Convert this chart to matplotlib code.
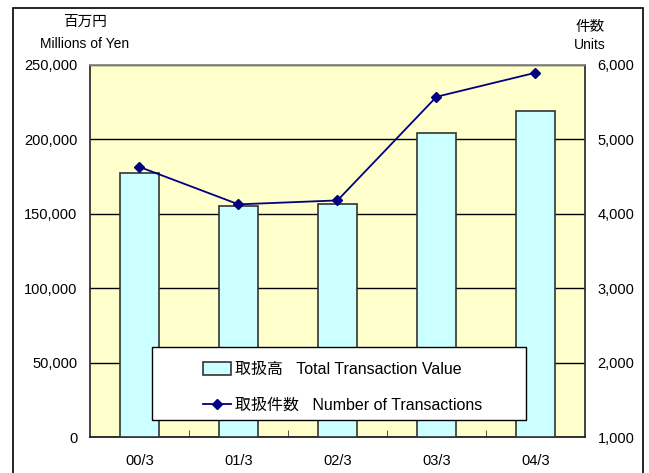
import numpy as np
import matplotlib.pyplot as plt
from matplotlib.patches import Rectangle
from matplotlib.ticker import FuncFormatter

plt.rcParams['font.family'] = ['Liberation Sans', 'Noto Sans CJK JP']

# data
periods = ['00/3', '01/3', '02/3', '03/3', '04/3']
value_mil_yen = [177200, 155000, 156300, 204400, 219000]
num_transactions = [4630, 4127, 4180, 5573, 5896]

W, H = 649, 473
fig = plt.figure(figsize=(6.49, 4.73), dpi=100)
ax = fig.add_axes([90/W, 36/H, 495/W, 372/H])
ax.set_facecolor('#FFFFCC')

x = np.arange(len(periods))
bars = ax.bar(x, value_mil_yen, width=0.4, color='#CCFFFF', edgecolor='#333333',
              linewidth=1.2, zorder=3)
ax.set_xlim(-0.5, len(periods) - 0.5)
ax.set_ylim(0, 250000)
ax.set_yticks(np.arange(0, 250001, 50000))
ax.yaxis.set_major_formatter(FuncFormatter(lambda v, p: f'{int(v):,}'))
ax.grid(axis='y', color='black', linewidth=1, zorder=1)
ax.set_axisbelow(True)
ax.set_xticks(x)
ax.set_xticklabels(periods)
ax.set_xticks(np.arange(0.5, len(periods) - 0.5, 1), minor=True)
ax.tick_params(axis='x', which='major', length=0, pad=12, labelsize=10.5)
ax.tick_params(axis='x', which='minor', direction='in', length=5, color='#333333')
ax.tick_params(axis='y', length=0, pad=9, labelsize=10.5)
ax.spines['top'].set_color('#888888')
ax.spines['right'].set_color('#333333')
ax.spines['left'].set_color('#333333')
ax.spines['bottom'].set_color('#222222')
for s in ax.spines.values():
    s.set_linewidth(1.3)

ax2 = ax.twinx()
line, = ax2.plot(x, num_transactions, color='#000080', marker='D', markersize=5,
                 linewidth=1.3, zorder=4)
ax2.set_ylim(1000, 6000)
ax2.set_yticks(np.arange(1000, 6001, 1000))
ax2.yaxis.set_major_formatter(FuncFormatter(lambda v, p: f'{int(v):,}'))
ax2.tick_params(axis='y', length=0, pad=9, labelsize=10.5)
for s in ax2.spines.values():
    s.set_visible(False)

# legend box
box = Rectangle((152/W, 1 - 420/H), 374/W, 73/H, transform=fig.transFigure,
                facecolor='white', edgecolor='black', linewidth=1, zorder=9,
                clip_on=False)
ax2.add_artist(box)
leg = ax2.legend([bars, line],
                 ['取扱高   Total Transaction Value', '取扱件数   Number of Transactions'],
                 loc='upper left', bbox_to_anchor=(195/W, 1 - 354/H),
                 bbox_transform=fig.transFigure, frameon=False, fontsize=11.5,
                 labelspacing=1.3, borderpad=0, handlelength=1.75,
                 handletextpad=0.25, handleheight=0.8)
leg.set_zorder(10)

fig.text(85/W, 1 - 22/H, '百万円', ha='center', va='center', fontsize=10.5)
fig.text(85/W, 1 - 44/H, 'Millions of Yen', ha='center', va='center', fontsize=10)
fig.text(590/W, 1 - 27/H, '件数', ha='center', va='center', fontsize=10.5)
fig.text(590/W, 1 - 45/H, 'Units', ha='center', va='center', fontsize=10)

fig.patches.append(Rectangle((13/W, -0.1), 630/W, 1.1 - 8/H,
                             transform=fig.transFigure, fill=False,
                             edgecolor='black', linewidth=1.2))

fig.savefig('out.png', dpi=100)
